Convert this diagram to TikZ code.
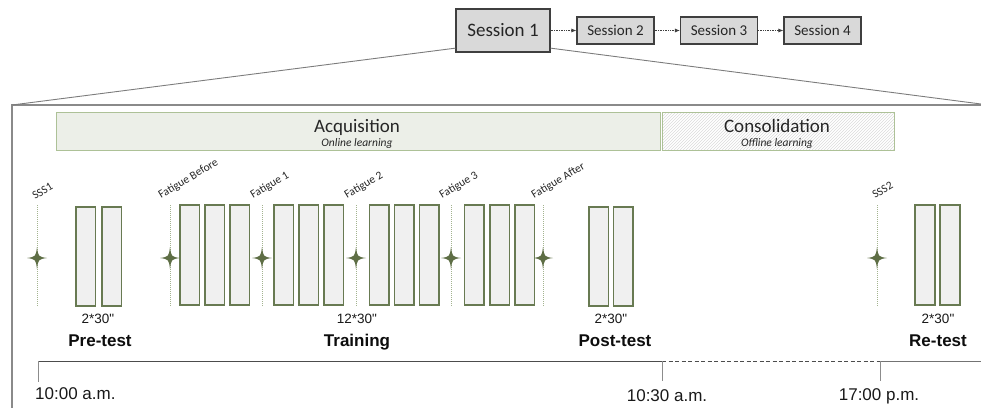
\documentclass[tikz,border=0pt]{standalone}
\usepackage{fontspec}
\setmainfont{Carlito}
\newfontfamily\arialf{Liberation Sans}
\usetikzlibrary{calc,patterns,arrows.meta}
\definecolor{blkborder}{HTML}{687A52}
\definecolor{blkfill}{HTML}{F0F0F0}
\definecolor{starcol}{HTML}{5E6E45}
\definecolor{dotcol}{HTML}{A3B38F}
\definecolor{acqfill}{HTML}{ECEFE8}
\definecolor{acqborder}{HTML}{ADC197}
\definecolor{sessfill}{HTML}{D9D9D9}
\definecolor{sessborder}{HTML}{3F3F3F}
\definecolor{framecol}{HTML}{8A8A8A}
\tikzset{
  sess/.style={draw=sessborder, fill=sessfill, line width=1.1pt, inner sep=0pt, text=black!85},
  sarrow/.style={densely dotted, draw=black!75, line width=0.7pt, -{Latex[length=5pt,width=4pt]}},
  blk/.style={draw=blkborder, fill=blkfill, line width=1.3pt},
  phase/.style={draw=acqborder, line width=1pt},
  mlabel/.style={font=\fontsize{11.5}{12}\selectfont, text=black!85, rotate=31, anchor=base west, inner sep=0pt},
  cnt/.style={font=\arialf\fontsize{13.5}{15}\selectfont, text=black!90, anchor=base, inner sep=0pt},
  phasetitle/.style={font=\arialf\bfseries\fontsize{17}{18}\selectfont, text=black!95, anchor=base, inner sep=0pt},
  timetext/.style={font=\arialf\fontsize{17}{18}\selectfont, text=black!90, inner sep=0pt},
  fstar/.pic={\fill[starcol] (0,-11) .. controls (1.3,-1.3) .. (10,0) .. controls (1.3,1.3) .. (0,11) .. controls (-1.3,1.3) .. (-10,0) .. controls (-1.3,-1.3) .. cycle;}
}
\begin{document}
\begin{tikzpicture}[x=1pt,y=-1pt]
\useasboundingbox (0,0) rectangle (981,407);

% sessions
\node[sess, minimum width=94pt, minimum height=43pt, font=\fontsize{19}{20}\selectfont] (s1) at (503,30.5) {Session 1};
\node[sess, minimum width=77pt, minimum height=27pt, font=\fontsize{15}{16}\selectfont] (s2) at (615.5,30.5) {Session 2};
\node[sess, minimum width=77pt, minimum height=27pt, font=\fontsize{15}{16}\selectfont] (s3) at (719,30.5) {Session 3};
\node[sess, minimum width=77pt, minimum height=27pt, font=\fontsize{15}{16}\selectfont] (s4) at (822.5,30.5) {Session 4};
\draw[sarrow] (s1) -- (s2);
\draw[sarrow] (s2) -- (s3);
\draw[sarrow] (s3) -- (s4);

% zoom frame
\coordinate (fl) at (12,105);
\coordinate (fr) at (981,104);
\draw[framecol, line width=1.1pt] (981,105) -- (fl) -- (12,410);
\draw[framecol!90!black, line width=0.9pt] (fl) -- ($(s1.south west)!0.1!(s1.north west)$);
\draw[framecol!90!black, line width=0.9pt] ($(s1.south east)!0.1!(s1.north east)$) -- (fr);

% phase boxes
\node[phase, fill=acqfill, minimum width=604pt, minimum height=38pt, inner sep=0pt] (acq) at (358,131) {};
\node[phase, pattern=north east lines, pattern color=black!14, minimum width=232pt, minimum height=38pt, inner sep=0pt] (con) at (778,131) {};
\node[font=\fontsize{19}{20}\selectfont, text=black!85, anchor=base, inner sep=0pt] (acqt) at (357,132) {Acquisition};
\node[font=\itshape\fontsize{11.5}{12}\selectfont, text=black!85, anchor=base, inner sep=0pt] (acqs) at (357,146) {Online learning};
\node[font=\fontsize{19}{20}\selectfont, text=black!85, anchor=base, inner sep=0pt] (cont) at (777,132) {Consolidation};
\node[font=\itshape\fontsize{11.5}{12}\selectfont, text=black!85, anchor=base, inner sep=0pt] (cons) at (777,146) {Offline learning};

% markers
\foreach \x/\nm in {37/m1,170/m2,262/m3,356/m4,451/m5,543/m6,877/m7}{
  \coordinate (\nm top) at (\x,205);
  \coordinate (\nm bot) at (\x,307);
  \draw[dotcol, densely dotted, line width=1pt] (\nm top) -- (\nm bot);
  \pic at (\x,258) {fstar};
}
\node[mlabel] (l1) at (35,200) {SSS1};
\node[mlabel] (l2) at (161,199) {Fatigue Before};
\node[mlabel] (l3) at (253,199) {Fatigue 1};
\node[mlabel] (l4) at (347,199) {Fatigue 2};
\node[mlabel] (l5) at (442,199) {Fatigue 3};
\node[mlabel] (l6) at (534,199) {Fatigue After};
\node[mlabel] (l7) at (875,199) {SSS2};

% blocks
\foreach \x in {76,102}{\draw[blk] (\x,207) rectangle ++(19.5,99);}
\foreach \x in {180,205,230, 274,299,324, 369.5,394.5,419.5, 464.5,490,515}{\draw[blk] (\x,205) rectangle ++(19.5,100);}
\foreach \x in {589,613.5}{\draw[blk] (\x,207) rectangle ++(19.5,99);}
\foreach \x in {915,940}{\draw[blk] (\x,205) rectangle ++(20,100);}

% counts and phase labels
\node[cnt] (c1) at (98,323) {2*30"};
\node[cnt] (c2) at (357,323) {12*30"};
\node[cnt] (c3) at (611,323) {2*30"};
\node[cnt] (c4) at (938,323) {2*30"};
\node[phasetitle] (p1) at (100,346) {Pre-test};
\node[phasetitle] (p2) at (357,346) {Training};
\node[phasetitle] (p3) at (615,346) {Post-test};
\node[phasetitle] (p4) at (938,346) {Re-test};

% timeline
\coordinate (t0) at (38,361);
\coordinate (t1) at (662,361);
\coordinate (t2) at (880,361);
\coordinate (t3) at (981,361);
\draw[black!70, line width=0.9pt] (t0) -- (t1);
\draw[black!70, line width=0.9pt, dashed, dash pattern=on 4pt off 2.5pt] (t1) -- (t2);
\draw[black!55, line width=0.9pt] (t2) -- (t3);
\draw[black!45, line width=0.8pt] (t0) -- (38,382);
\draw[black!45, line width=0.8pt] (t1) -- (662,381);
\draw[black!45, line width=0.8pt] (t2) -- (880,381);
\node[timetext, anchor=west] (tt0) at (35,394) {10:00 a.m.};
\node[timetext] (tt1) at (667,396) {10:30 a.m.};
\node[timetext] (tt2) at (879,396) {17:00 p.m.};
\end{tikzpicture}
\end{document}
